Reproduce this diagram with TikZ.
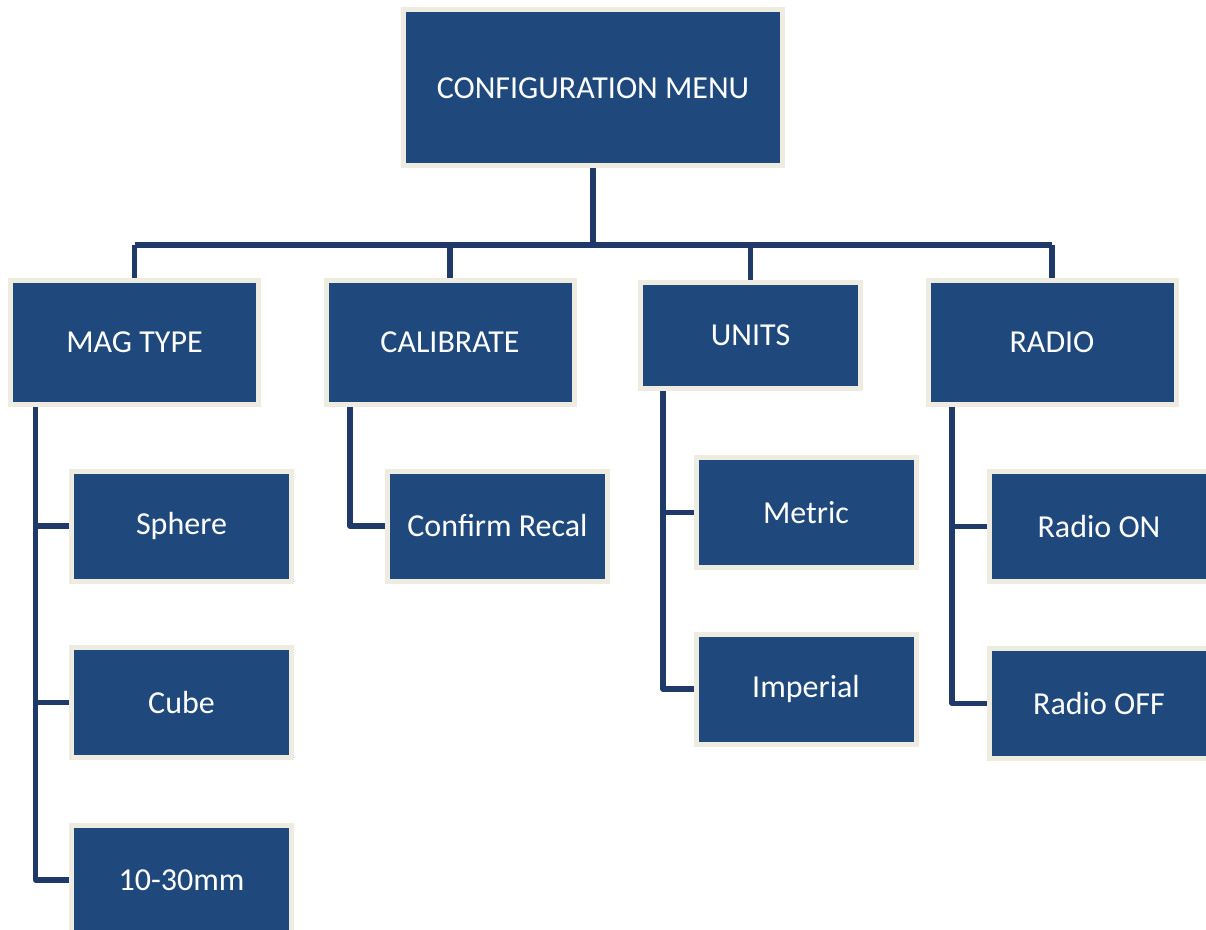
\documentclass[tikz,border=0pt]{standalone}
\usepackage{fontspec}
\setmainfont{Carlito}
\usetikzlibrary{calc,backgrounds}
\definecolor{boxblue}{HTML}{1F497D}
\definecolor{boxedge}{HTML}{EEECE1}
\definecolor{linkblue}{HTML}{1F3A68}
\tikzset{
  px/.style={x=0.75pt,y=-0.75pt},
  box/.style={draw=boxedge,fill=boxblue,line width=3.75pt,inner sep=0pt,outer sep=0pt,
    text=white,font=\fontsize{24}{29}\selectfont},
  bigbox/.style={box,minimum width=186pt,minimum height=93pt},
  smallbox/.style={box,minimum width=165pt,minimum height=82.5pt},
  topbox/.style={box,minimum width=284.25pt,minimum height=117pt},
  unitbox/.style={box,minimum width=165pt,minimum height=79.5pt},
  conn/.style={draw=linkblue,line width=4pt,line join=round}
}
\begin{document}
\begin{tikzpicture}[px]
\useasboundingbox (0,0) rectangle (1206,930);
\clip (0,0) rectangle (1206,930);
\node[topbox] (top) at (593,88) {CONFIGURATION MENU};
\node[bigbox] (mag) at (134.5,342.5) {MAG TYPE};
\node[bigbox] (cal) at (450,342.5) {CALIBRATE};
\node[unitbox] (units) at (750.5,335.5) {UNITS};
\node[bigbox] (radio) at (1052,342.5) {RADIO};
\node[smallbox] (sphere) at (181.5,526) {Sphere};
\node[smallbox] (cube) at (181.5,702.5) {Cube};
\node[smallbox] (mm) at (181.5,880) {10-30mm};
\node[smallbox] (recal) at (497.5,526) {Confirm Recal};
\node[smallbox] (metric) at (806,512.5) {Metric};
\node[smallbox] (imperial) at (806,689) {Imperial};
\node[smallbox] (ron) at (1099,526.5) {Radio ON};
\node[smallbox] (roff) at (1099,703.5) {Radio OFF};
\begin{scope}[on background layer]
  \draw[conn] (top.south) -- ++(0,79) coordinate (bus);
  \draw[conn] (bus -| mag.north) -- (bus -| radio.north);
  \foreach \n in {mag,cal,units,radio}{
    \draw[conn] (bus -| \n.north) -- (\n.north);
  }
  \draw[conn] ($(mag.south)+(-99,0)$) coordinate (mv) |- (mm.west);
  \draw[conn] (mv |- sphere.west) -- (sphere.west);
  \draw[conn] (mv |- cube.west) -- (cube.west);
  \draw[conn] ($(cal.south)+(-100,0)$) |- (recal.west);
  \draw[conn] ($(units.south)+(-87.5,0)$) coordinate (uv) |- (imperial.west);
  \draw[conn] (uv |- metric.west) -- (metric.west);
  \draw[conn] ($(radio.south)+(-100,0)$) coordinate (rv) |- (roff.west);
  \draw[conn] (rv |- ron.west) -- (ron.west);
\end{scope}
\end{tikzpicture}
\end{document}
